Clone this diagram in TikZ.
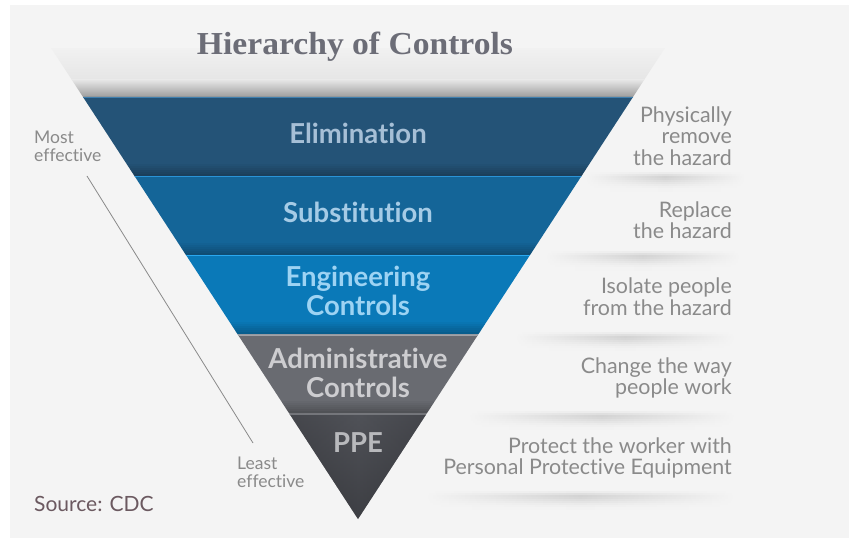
\documentclass[tikz,border=0pt]{standalone}
\usepackage{fontspec}
\setmainfont{Lato}[Ligatures={NoCommon,NoRare}]
\newfontfamily\titlefont{Liberation Serif}[FakeStretch=1.05]
\usetikzlibrary{calc}
\definecolor{bg}{HTML}{F4F4F4}
\definecolor{elimC}{HTML}{2A5C82}
\definecolor{elimE}{HTML}{245377}
\definecolor{elimL}{HTML}{3F7FAE}
\definecolor{elimT}{HTML}{A6BFD6}
\definecolor{subC}{HTML}{1872A9}
\definecolor{subE}{HTML}{146598}
\definecolor{subL}{HTML}{2A93D6}
\definecolor{subT}{HTML}{A5CBE6}
\definecolor{engC}{HTML}{0B89CE}
\definecolor{engE}{HTML}{0A79B8}
\definecolor{engL}{HTML}{2AA8EF}
\definecolor{engT}{HTML}{9DD3F3}
\definecolor{admC}{HTML}{808288}
\definecolor{admE}{HTML}{696B71}
\definecolor{admL}{HTML}{A0A2A7}
\definecolor{admT}{HTML}{CDCDD0}
\definecolor{ppeC}{HTML}{505258}
\definecolor{ppeE}{HTML}{3C3D42}
\definecolor{ppeD}{HTML}{2B2C30}
\definecolor{ppeL}{HTML}{74767B}
\definecolor{ppeT}{HTML}{B8B9BC}
\definecolor{descC}{HTML}{8A8A8A}
\definecolor{titleC}{HTML}{6C6D77}
\definecolor{srcC}{HTML}{6B5960}
\definecolor{shC}{HTML}{D3D3D3}
\begin{document}
\begin{tikzpicture}[x=1pt,y=-1pt,
  bandlbl/.style={font=\fontsize{27.5}{30}\selectfont\bfseries, anchor=base, inner sep=0},
  desc/.style={font=\fontsize{21.4}{22}\selectfont, text=descC, anchor=base east, inner sep=0},
  sidelbl/.style={font=\fontsize{17.5}{18}\selectfont, text=descC, anchor=base west, inner sep=0}]
\useasboundingbox (0,0) rectangle (849,540);
\fill[white] (0,0) rectangle (849,540);
\fill[bg] (10,5) rectangle (849,538);
% geometry
\coordinate (L0) at (83,97);
\coordinate (R0) at (633,97);
\coordinate (AP) at (358,519);
\foreach \k in {1,2,3,4}{
  \coordinate (L\k) at ($(L0)!\k*0.1875!(AP)$);
  \coordinate (R\k) at ($(R0)!\k*0.1875!(AP)$);
}
\coordinate (FL) at ($(L0)!-0.116!(AP)$);
\coordinate (FR) at ($(R0)!-0.116!(AP)$);
% funnel top shadow
\begin{scope}
  \clip (FL) -- (FR) -- (R0) -- (L0) -- cycle;
  \shade[top color=bg, bottom color=black!10] (0,40) rectangle (849,80);
  \shade[top color=black!10, bottom color=black!40] (0,80) rectangle (849,98);
\end{scope}
% bands
\begin{scope}
  \clip (L0) -- (R0) -- (R1) -- (L1) -- cycle;
  \shade[left color=elimE, middle color=elimC, right color=elimE] (L0) rectangle (R0 |- L1);
  \foreach \i in {0,...,5}{\fill[black, opacity={0.03+0.04*\i}] (0,{164+2*\i}) rectangle (849,{166+2*\i});}
  \draw[elimL, line width=1.2pt] (0,97.6) -- (849,97.6);
\end{scope}
\begin{scope}
  \clip (L1) -- (R1) -- (R2) -- (L2) -- cycle;
  \shade[left color=subE, middle color=subC, right color=subE] (L1) rectangle (R1 |- L2);
  \foreach \i in {0,...,5}{\fill[black, opacity={0.03+0.04*\i}] (0,{243+2*\i}) rectangle (849,{245+2*\i});}
  \draw[subL, line width=1.2pt] (0,176.7) -- (849,176.7);
\end{scope}
\begin{scope}
  \clip (L2) -- (R2) -- (R3) -- (L3) -- cycle;
  \shade[left color=engE, middle color=engC, right color=engE] (L2) rectangle (R2 |- L3);
  \foreach \i in {0,...,5}{\fill[black, opacity={0.03+0.04*\i}] (0,{322+2*\i}) rectangle (849,{324+2*\i});}
  \draw[engL, line width=1.2pt] (0,255.8) -- (849,255.8);
\end{scope}
\begin{scope}
  \clip (L3) -- (R3) -- (R4) -- (L4) -- cycle;
  \shade[left color=admE, middle color=admC, right color=admE] (L3) rectangle (R3 |- L4);
  \foreach \i in {0,...,5}{\fill[black, opacity={0.03+0.04*\i}] (0,{401+2*\i}) rectangle (849,{403+2*\i});}
  \draw[admL, line width=1.2pt] (0,335) -- (849,335);
\end{scope}
\begin{scope}
  \clip (L4) -- (R4) -- (AP) -- cycle;
  \shade[top color=ppeC, bottom color=ppeD] (L4) rectangle (R4 |- AP);
  \shade[left color=ppeE, right color=ppeE, middle color=ppeC, opacity=0.5] (L4) rectangle (R4 |- AP);
  \draw[ppeL, line width=1.2pt] (0,414.1) -- (849,414.1);
\end{scope}
% band labels
\node[bandlbl, text=elimT] (elim) at (358,144) {Elimination};
\node[bandlbl, text=subT] (subst) at (358,223) {Substitution};
\node[bandlbl, text=engT] (eng1) at (358,287) {Engineering};
\node[bandlbl, text=engT] (eng2) at (358,316) {Controls};
\node[bandlbl, text=admT] (adm1) at (358,368) {Administrative};
\node[bandlbl, text=admT] (adm2) at (358,397) {Controls};
\node[bandlbl, text=ppeT] (ppe) at (358,452) {PPE};
% right shadows
\foreach \xa/\xb/\yb in {585/745/176, 545/740/255, 515/735/335, 468/735/414, 425/735/494}{
  \foreach \j/\p in {0/25,1/65,2/100,3/90,4/70,5/50,6/30,7/15,8/5}{
    \shade[left color=bg, right color=bg, middle color=shC!\p!bg] (\xa,{\yb-3+2*\j}) rectangle (\xb,{\yb-0.8+2*\j});
  }
}
% right descriptions
\node[desc] (d1a) at (732,123) {Physically};
\node[desc] (d1b) at (732,144) {remove};
\node[desc] (d1c) at (732,166) {the hazard};
\node[desc] (d2a) at (732,218) {Replace};
\node[desc] (d2b) at (732,239) {the hazard};
\node[desc] (d3a) at (732,293) {Isolate people};
\node[desc] (d3b) at (732,315) {from the hazard};
\node[desc] (d4a) at (732,373) {Change the way};
\node[desc] (d4b) at (732,394) {people work};
\node[desc] (d5a) at (732,453) {Protect the worker with};
\node[desc] (d5b) at (732,474) {Personal Protective Equipment};
% left side
\node[sidelbl] (most1) at (34,144) {Most};
\node[sidelbl] (most2) at (34,162) {effective};
\node[sidelbl] (least1) at (237,469) {Least};
\node[sidelbl] (least2) at (237,487) {effective};
\coordinate (ls) at (87,176);
\coordinate (le) at (253,443);
\draw[descC, line width=0.8pt] (ls) -- (le);
% title and source
\node[font=\titlefont\bfseries\fontsize{32}{34}\selectfont, text=titleC, anchor=base, inner sep=0] (title) at (355,55) {Hierarchy of Controls};
\node[font=\fontsize{21}{22}\selectfont, text=srcC, anchor=base west, inner sep=0] (src) at (34,511) {Source: CDC};
\end{tikzpicture}
\end{document}
